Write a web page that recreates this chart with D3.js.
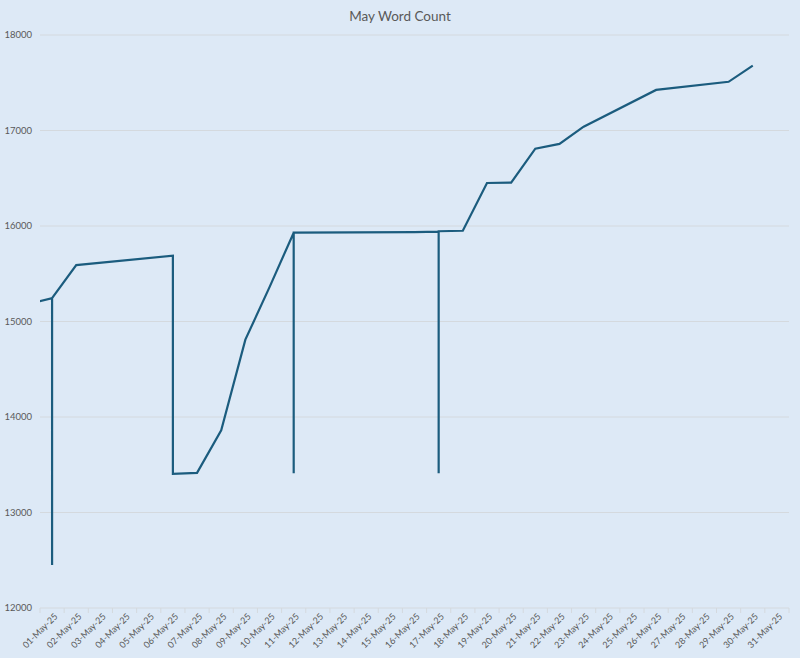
<!DOCTYPE html>
<html>
<head>
<meta charset="utf-8">
<script src="https://cdn.jsdelivr.net/npm/d3@7"></script>
<style>
  body { margin: 0; background: #dde9f6; }
  svg { font-family: Lato, "Open Sans", sans-serif; }
</style>
</head>
<body>
<svg id="chart" width="800" height="658"></svg>
<script>
// day of May for each recorded entry (0 = 30-Apr), several entries may share a day
const entryDays = [0, 1, 1, 1, 2, 6, 6, 7, 8, 9, 10, 11, 11, 11, 16, 17, 17, 17, 18, 19, 20, 21, 22, 23, 26, 29, 30];
const wordCounts = [15180, 15245, 12450, 15245, 15590, 15690, 13405, 13415, 13860, 14810, 15360, 15930, 13410, 15930,
  15935, 15940, 13410, 15945, 15950, 16450, 16455, 16810, 16860, 17040, 17425, 17510, 17680];
const dayLabels = d3.range(1, 32).map(d => String(d).padStart(2, '0') + '-May-25');
const yTicks = [12000, 13000, 14000, 15000, 16000, 17000, 18000];

const svg = d3.select('#chart');
const margin = { top: 35, right: 11, bottom: 50, left: 40 };
const width = 800 - margin.left - margin.right;
const height = 658 - margin.top - margin.bottom;

const x = d3.scaleLinear().domain([0, 31]).range([0, width]);
const y = d3.scaleLinear().domain([12000, 18000]).range([height, 0]);

svg.append('text')
  .attr('x', 400).attr('y', 21)
  .attr('text-anchor', 'middle')
  .attr('fill', '#595959')
  .style('font-size', '13.5px')
  .text('May Word Count');

const chart = svg.append('g').attr('transform', `translate(${margin.left},${margin.top})`);

svg.append('defs').append('clipPath').attr('id', 'plot')
  .append('rect').attr('width', width).attr('height', height + 5).attr('y', -5);

// gridlines
chart.selectAll('.grid').data(yTicks).enter().append('line')
  .attr('x1', 0).attr('x2', width)
  .attr('y1', d => y(d)).attr('y2', d => y(d))
  .attr('stroke', '#d4d9de').attr('stroke-width', 1);

// y labels
chart.selectAll('.ylab').data(yTicks).enter().append('text')
  .attr('x', -8).attr('y', d => y(d) + 3)
  .attr('text-anchor', 'end')
  .attr('fill', '#595959')
  .style('font-size', '9.5px')
  .text(d => d);

// x tick marks
chart.selectAll('.xtick').data(d3.range(0, 32)).enter().append('line')
  .attr('x1', d => x(d)).attr('x2', d => x(d))
  .attr('y1', height).attr('y2', height + 5)
  .attr('stroke', '#d4d9de');

// x labels
chart.selectAll('.xlab').data(dayLabels).enter().append('text')
  .attr('transform', (d, i) => `translate(${x(i + 0.5) + 6},${height + 9}) rotate(-45)`)
  .attr('text-anchor', 'end')
  .attr('fill', '#595959')
  .style('font-size', '9px')
  .text(d => d);

const points = entryDays.map((d, i) => ({ day: d, value: wordCounts[i] }));
const line = d3.line()
  .x(d => x(d.day - 0.5))
  .y(d => y(d.value));

chart.append('path')
  .datum(points)
  .attr('clip-path', 'url(#plot)')
  .attr('fill', 'none')
  .attr('stroke', '#1b5c7e')
  .attr('stroke-width', 2.2)
  .attr('d', line);
</script>
</body>
</html>
